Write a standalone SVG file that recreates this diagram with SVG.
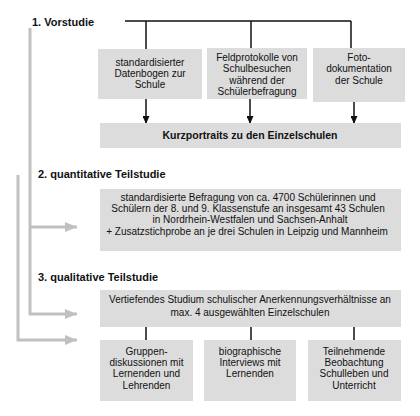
<svg xmlns="http://www.w3.org/2000/svg" width="420" height="416" viewBox="0 0 420 416">
<style>
.box{fill:#dcdcdc;}
.t{font-family:"Liberation Sans",Arial,sans-serif;font-size:10px;fill:#111;text-anchor:middle;}
.h{font-family:"Liberation Sans",Arial,sans-serif;font-size:11px;font-weight:bold;fill:#111;}
.b{font-family:"Liberation Sans",Arial,sans-serif;font-size:10.5px;font-weight:bold;fill:#111;text-anchor:middle;}
.k{stroke:#111;stroke-width:1.5;fill:none;}
.g{stroke:#c0c0c0;stroke-width:3;fill:none;}
</style>
<defs>
<marker id="ak" markerWidth="8" markerHeight="7" refX="8" refY="3.5" orient="auto" markerUnits="userSpaceOnUse"><path d="M0,0 L8,3.5 L0,7 Z" fill="#111"/></marker>
<marker id="ag" markerWidth="12" markerHeight="10" refX="12" refY="5" orient="auto" markerUnits="userSpaceOnUse"><path d="M0,0 L12,5 L0,10 Z" fill="#c0c0c0"/></marker>
</defs>
<g id="labels">
<text class="h" x="32" y="26">1. Vorstudie</text>
<text class="h" x="38" y="178">2. quantitative Teilstudie</text>
<text class="h" x="38" y="281">3. qualitative Teilstudie</text>
</g>
<g id="connectors">
<path class="k" d="M125,21 H351 M146,21 V50 M251,21 V48 M351,21 V48"/>
<path class="k" d="M146,99 V124" marker-end="url(#ak)"/>
<path class="k" d="M250,99 V124" marker-end="url(#ak)"/>
<path class="k" d="M354,102 V124" marker-end="url(#ak)"/>
<path class="k" d="M146,327 V340 M251,327 V340 M354,327 V340"/>
<path class="g" d="M30,28 V314 H77" marker-end="url(#ag)"/>
<path class="g" d="M30,227 H77" marker-end="url(#ag)"/>
<path class="g" d="M18,175 V340 H77" marker-end="url(#ag)"/>
</g>
<g id="n1">
<rect class="box" x="98" y="49" width="104" height="50"/>
<text class="t" x="150" y="66">standardisierter</text>
<text class="t" x="150" y="77">Datenbogen zur</text>
<text class="t" x="150" y="88">Schule</text>
</g>
<g id="n2">
<rect class="box" x="207" y="48" width="100" height="51"/>
<text class="t" x="257" y="61">Feldprotokolle von</text>
<text class="t" x="257" y="72">Schulbesuchen</text>
<text class="t" x="257" y="84">während der</text>
<text class="t" x="257" y="95">Schülerbefragung</text>
</g>
<g id="n3">
<rect class="box" x="313" y="48" width="92" height="54"/>
<text class="t" x="359" y="61">Foto-</text>
<text class="t" x="359" y="72">dokumentation</text>
<text class="t" x="359" y="84">der Schule</text>
</g>
<g id="n4">
<rect class="box" x="100" y="123" width="301" height="25"/>
<text class="b" x="250" y="139">Kurzportraits zu den Einzelschulen</text>
</g>
<g id="n5">
<rect class="box" x="100" y="189" width="301" height="62"/>
<text class="t" x="248" y="201">standardisierte Befragung von ca. 4700 Schülerinnen und</text>
<text class="t" x="248" y="212">Schülern der 8. und 9. Klassenstufe an insgesamt 43 Schulen</text>
<text class="t" x="250" y="223">in Nordrhein-Westfalen und Sachsen-Anhalt</text>
<text class="t" x="247" y="235">+ Zusatzstichprobe an je drei Schulen in Leipzig und Mannheim</text>
</g>
<g id="n6">
<rect class="box" x="100" y="290" width="301" height="37"/>
<text class="t" x="250" y="303">Vertiefendes Studium schulischer Anerkennungsverhältnisse an</text>
<text class="t" x="250" y="316">max. 4 ausgewählten Einzelschulen</text>
</g>
<g id="n7">
<rect class="box" x="100" y="340" width="93" height="61"/>
<text class="t" x="146.5" y="355">Gruppen-</text>
<text class="t" x="146.5" y="366">diskussionen mit</text>
<text class="t" x="146.5" y="377">Lernenden und</text>
<text class="t" x="146.5" y="389">Lehrenden</text>
</g>
<g id="n8">
<rect class="box" x="204" y="340" width="92" height="61"/>
<text class="t" x="250" y="355">biographische</text>
<text class="t" x="250" y="366">Interviews mit</text>
<text class="t" x="250" y="377">Lernenden</text>
</g>
<g id="n9">
<rect class="box" x="308" y="340" width="93" height="61"/>
<text class="t" x="354" y="355">Teilnehmende</text>
<text class="t" x="354" y="366">Beobachtung</text>
<text class="t" x="354" y="377">Schulleben und</text>
<text class="t" x="354" y="389">Unterricht</text>
</g>
</svg>
